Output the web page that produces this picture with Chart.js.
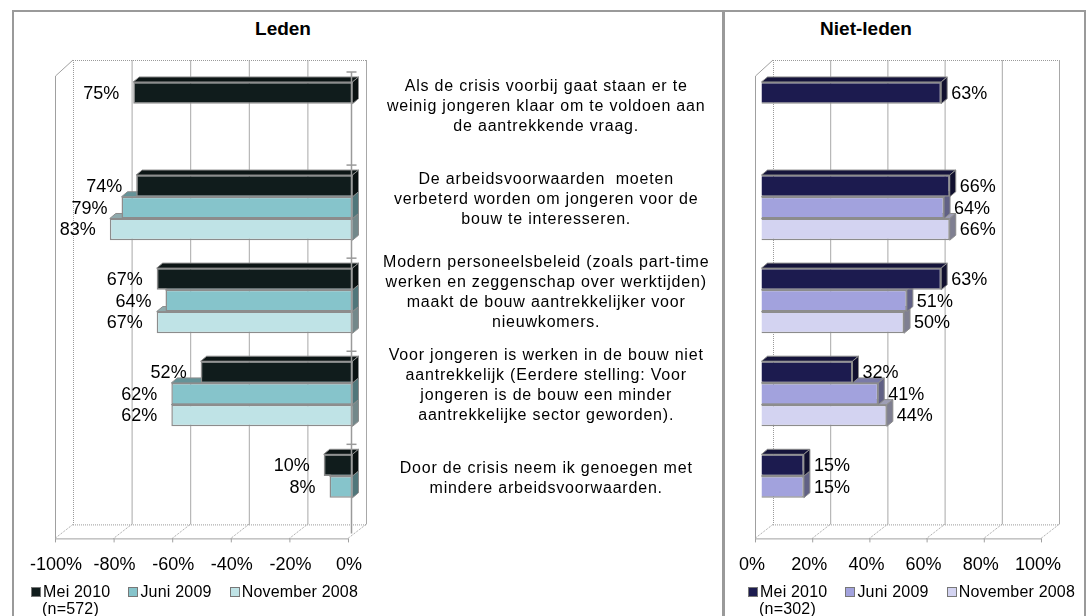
<!DOCTYPE html>
<html>
<head>
<meta charset="utf-8">
<script src="https://cdn.jsdelivr.net/npm/chart.js@4.4.1/dist/chart.umd.min.js"></script>
<style>
  body { margin: 0; background: #fff; font-family: "Liberation Sans", Arial, sans-serif; color: #000; }
  #frame { position: absolute; left: 12px; top: 10px; width: 1070px; height: 620px; border: 2px solid #9a9a9a; border-bottom: none; }
  #divider { position: absolute; left: 722px; top: 10px; width: 3px; height: 606px; background: #9a9a9a; }
  .title { position: absolute; top: 19px; font-weight: bold; font-size: 19px; line-height: 20px; transform: translateX(-50%); }
  canvas { position: absolute; top: 12px; }
  #leden { left: 14px; }
  #niet { left: 726px; }
  .legend { position: absolute; top: 583px; font-size: 16px; line-height: 17px; letter-spacing: 0.2px; white-space: nowrap; }
  .legend .row { display: flex; align-items: center; }
  .legend .item { display: flex; align-items: center; margin-right: 18px; }
  .legend .sw { width: 8px; height: 8px; border: 1px solid #777; margin-right: 2px; }
  .legend .n { padding-left: 11px; }
</style>
</head>
<body>
<div id="frame"></div>
<div id="divider"></div>
<div class="title" style="left:283px">Leden</div>
<div class="title" style="left:866px">Niet-leden</div>
<canvas id="leden" width="708" height="604"></canvas>
<canvas id="niet" width="359" height="604"></canvas>
<div class="legend" id="legLeden" style="left:31px"></div>
<div class="legend" id="legNiet" style="left:748px"></div>
<script>
// statements (shown between the two panels)
const categories = [
  ['Als de crisis voorbij gaat staan er te', 'weinig jongeren klaar om te voldoen aan', 'de aantrekkende vraag.'],
  ['De arbeidsvoorwaarden  moeten', 'verbeterd worden om jongeren voor de', 'bouw te interesseren.'],
  ['Modern personeelsbeleid (zoals part-time', 'werken en zeggenschap over werktijden)', 'maakt de bouw aantrekkelijker voor', 'nieuwkomers.'],
  ['Voor jongeren is werken in de bouw niet', 'aantrekkelijk (Eerdere stelling: Voor', 'jongeren is de bouw een minder', 'aantrekkelijke sector geworden).'],
  ['Door de crisis neem ik genoegen met', 'mindere arbeidsvoorwaarden.']
];
const seriesNames = ['Mei 2010', 'Juni 2009', 'November 2008'];

// Leden (n=572)
const ledenMei2010 = [75, 74, 67, 52, 10];
const ledenJuni2009 = [null, 79, 64, 62, 8];
const ledenNov2008 = [null, 83, 67, 62, null];

// Niet-leden (n=302)
const nietMei2010 = [63, 66, 63, 32, 15];
const nietJuni2009 = [null, 64, 51, 41, 15];
const nietNov2008 = [null, 66, 50, 44, null];

const ledenTicks = [-100, -80, -60, -40, -20, 0];
const nietTicks = [0, 20, 40, 60, 80, 100];
const ledenN = '(n=572)';
const nietN = '(n=302)';

const ledenColors = ['#101c1c', '#86c4cb', '#bfe3e6'];
const nietColors = ['#1c1b4f', '#a2a2dd', '#d3d3f1'];

Chart.defaults.font.family = '"Liberation Sans", Arial, sans-serif';
Chart.defaults.color = '#000';

function shade(hex, f) {
  const n = parseInt(hex.slice(1), 16);
  const r = Math.round(((n >> 16) & 255) * f), g = Math.round(((n >> 8) & 255) * f), b = Math.round((n & 255) * f);
  return `rgb(${r},${g},${b})`;
}

// back wall, left wall and floor of the 3D box
const framePlugin = {
  id: 'frame3d',
  beforeDatasetsDraw(chart, args, opts) {
    const { ctx, chartArea: ca, scales: { x } } = chart;
    const ticks = x.ticks.map(t => x.getPixelForValue(t.value));
    const bx = opts.backDx, fx = opts.frontDx;
    const backTop = ca.top - 8, backBottom = ca.bottom - 9, front = ca.bottom + 5;
    const first = ticks[0], last = ticks[ticks.length - 1];
    ctx.save();
    ctx.lineWidth = 1;
    ctx.strokeStyle = '#a8a8a8';
    ticks.forEach((p, i) => {
      if (i === 0) return;
      ctx.beginPath(); ctx.moveTo(p + bx + 0.5, backTop); ctx.lineTo(p + bx + 0.5, backBottom); ctx.stroke();
    });
    ctx.setLineDash([1, 1]);
    ctx.strokeStyle = '#9a9a9a';
    // back top edge and left back edge
    ctx.beginPath(); ctx.moveTo(first + bx, backTop + 0.5); ctx.lineTo(last + bx, backTop + 0.5); ctx.stroke();
    ctx.beginPath(); ctx.moveTo(first + bx + 0.5, backTop); ctx.lineTo(first + bx + 0.5, backBottom); ctx.stroke();
    // floor back edge and diagonals
    ctx.beginPath(); ctx.moveTo(first + bx, backBottom + 0.5); ctx.lineTo(last + bx, backBottom + 0.5); ctx.stroke();
    ticks.forEach(p => {
      ctx.beginPath(); ctx.moveTo(p + bx, backBottom); ctx.lineTo(p + fx, front); ctx.stroke();
    });
    ctx.setLineDash([]);
    ctx.strokeStyle = '#a0a0a0';
    // left wall front edge + top diagonal
    ctx.beginPath(); ctx.moveTo(first + bx, backTop); ctx.lineTo(first + fx + 0.5, ca.top + 8);
    ctx.lineTo(first + fx + 0.5, front); ctx.stroke();
    // floor front edge with tick marks
    ctx.beginPath(); ctx.moveTo(first + fx, front + 0.5); ctx.lineTo(last + fx, front + 0.5); ctx.stroke();
    ticks.forEach(p => {
      ctx.beginPath(); ctx.moveTo(p + fx + 0.5, front); ctx.lineTo(p + fx + 0.5, front + 4); ctx.stroke();
    });
    ctx.restore();
  }
};

// top and side faces of each bar
const facesPlugin = {
  id: 'faces3d',
  beforeDatasetsDraw(chart, args, opts) {
    const { ctx } = chart;
    const dx = 6, dy = 5;
    ctx.save();
    ctx.lineWidth = 1;
    ctx.strokeStyle = '#8c8c8c';
    for (let d = chart.data.datasets.length - 1; d >= 0; d--) {
      const ds = chart.data.datasets[d];
      chart.getDatasetMeta(d).data.forEach((el, i) => {
        if (ds.data[i] === null) return;
        const l = Math.min(el.x, el.base), r = Math.max(el.x, el.base);
        const t = el.y - el.height / 2, b = el.y + el.height / 2;
        ctx.fillStyle = shade(ds.backgroundColor, 0.75);
        ctx.beginPath(); ctx.moveTo(l, t); ctx.lineTo(l + dx, t - dy); ctx.lineTo(r + dx, t - dy); ctx.lineTo(r, t); ctx.closePath();
        ctx.fill(); ctx.stroke();
        ctx.fillStyle = shade(ds.backgroundColor, 0.6);
        ctx.beginPath(); ctx.moveTo(r, t); ctx.lineTo(r + dx, t - dy); ctx.lineTo(r + dx, b - dy); ctx.lineTo(r, b); ctx.closePath();
        ctx.fill(); ctx.stroke();
      });
    }
    ctx.restore();
  }
};

// value labels and (left chart) the category axis at 0
const labelPlugin = {
  id: 'valueLabels',
  beforeDraw(chart) { chart.ctx.letterSpacing = '0px'; },
  afterDatasetsDraw(chart, args, opts) {
    const { ctx, chartArea: ca, scales: { x, y } } = chart;
    ctx.save();
    if (opts.axisLine) {
      const p = x.getPixelForValue(0) - 1.5;
      ctx.strokeStyle = '#9a9a9a';
      ctx.lineWidth = 1.5;
      ctx.beginPath(); ctx.moveTo(p, ca.top + 4); ctx.lineTo(p, ca.bottom); ctx.stroke();
      const step = (ca.bottom - ca.top) / categories.length;
      for (let i = 0; i < categories.length; i++) {
        const yy = ca.top + i * step + 4;
        ctx.beginPath(); ctx.moveTo(p - 5, yy); ctx.lineTo(p + 5, yy); ctx.stroke();
      }
    }
    ctx.font = '18px "Liberation Sans", Arial, sans-serif';
    ctx.fillStyle = '#000';
    ctx.textBaseline = 'middle';
    chart.data.datasets.forEach((ds, d) => {
      chart.getDatasetMeta(d).data.forEach((el, i) => {
        const v = ds.data[i];
        if (v === null) return;
        const txt = Math.abs(v) + '%';
        if (opts.side === 'left') {
          ctx.textAlign = 'right';
          ctx.fillText(txt, el.x - 14, el.y + 1);
        } else {
          ctx.textAlign = 'left';
          ctx.fillText(txt, el.x + 10, el.y + 1);
        }
      });
    });
    ctx.restore();
    ctx.letterSpacing = opts.textSpacing || '0px';
  }
};

function makeDatasets(series, colors, negative) {
  return series.map((vals, i) => ({
    label: seriesNames[i],
    data: vals.map(v => v === null ? null : (negative ? -v : v)),
    backgroundColor: colors[i],
    borderColor: '#8c8c8c',
    borderWidth: 1.5,
    categoryPercentage: 0.7,
    barPercentage: 1.0
  }));
}

function xScale(tickVals, labelOffset) {
  return {
    min: tickVals[0],
    max: tickVals[tickVals.length - 1],
    afterBuildTicks: s => { s.ticks = tickVals.map(v => ({ value: v })); },
    grid: { color: 'transparent', tickLength: 10 },
    border: { display: false },
    ticks: { font: { size: 18 }, padding: 11, labelOffset: labelOffset, maxRotation: 0, callback: v => v + '%' }
  };
}

new Chart(document.getElementById('leden'), {
  type: 'bar',
  data: { labels: categories, datasets: makeDatasets([ledenMei2010, ledenJuni2009, ledenNov2008], ledenColors, true) },
  options: {
    indexAxis: 'y',
    responsive: false,
    animation: false,
    layout: { padding: { left: 46, top: 56, right: 9, bottom: 29 } },
    scales: {
      x: xScale(ledenTicks, -4),
      y: {
        position: 'right',
        grid: { display: false, drawTicks: false },
        border: { display: false },
        afterFit: s => { s.width = 360; s.paddingTop = 0; s.paddingBottom = 0; },
        ticks: { z: 1, font: { size: 16, lineHeight: 1.25 }, crossAlign: 'center', padding: 46, labelOffset: -8, autoSkip: false }
      }
    },
    plugins: {
      legend: { display: false },
      tooltip: { enabled: false },
      frame3d: { backDx: 13, frontDx: -5 },
      valueLabels: { side: 'left', axisLine: true, textSpacing: '0.8px' }
    }
  },
  plugins: [framePlugin, facesPlugin, labelPlugin]
});

new Chart(document.getElementById('niet'), {
  type: 'bar',
  data: { labels: categories, datasets: makeDatasets([nietMei2010, nietJuni2009, nietNov2008], nietColors, false) },
  options: {
    indexAxis: 'y',
    responsive: false,
    animation: false,
    layout: { padding: { left: 35, top: 56, right: 38, bottom: 29 } },
    scales: {
      x: xScale(nietTicks, -9),
      y: { display: false }
    },
    plugins: {
      legend: { display: false },
      tooltip: { enabled: false },
      frame3d: { backDx: 12, frontDx: -6 },
      valueLabels: { side: 'right' }
    }
  },
  plugins: [framePlugin, facesPlugin, labelPlugin]
});

function buildLegend(id, colors, nText) {
  const el = document.getElementById(id);
  const row = document.createElement('div');
  row.className = 'row';
  seriesNames.forEach((name, i) => {
    const item = document.createElement('div');
    item.className = 'item';
    item.innerHTML = `<span class="sw" style="background:${colors[i]}"></span><span>${name}</span>`;
    row.appendChild(item);
  });
  el.appendChild(row);
  const n = document.createElement('div');
  n.className = 'n';
  n.textContent = nText;
  el.appendChild(n);
}
buildLegend('legLeden', ledenColors, ledenN);
buildLegend('legNiet', nietColors, nietN);
</script>
</body>
</html>
